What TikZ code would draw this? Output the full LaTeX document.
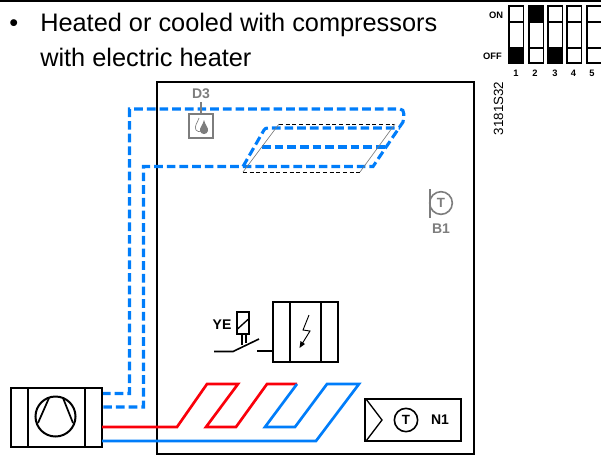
\documentclass[tikz,border=0pt]{standalone}
\usepackage{fontspec}
\setmainfont{Liberation Sans}
\definecolor{bl}{RGB}{0,125,250}
\definecolor{rd}{RGB}{250,0,10}
\definecolor{gr}{RGB}{125,125,125}
\tikzset{
 box/.style={draw=black,line width=1.5pt},
 thin box/.style={draw=black,line width=1.1pt},
 blued/.style={draw=bl,line width=2.3pt,dash pattern=on 6.5pt off 3pt},
 redl/.style={draw=rd,line width=2pt,line join=miter},
 bluel/.style={draw=bl,line width=2pt,line join=miter},
 lab/.style={inner sep=0pt,font=\fontsize{10.5}{12}\selectfont\bfseries},
 glab/.style={lab,text=gr},
 dip/.style={draw=black,line width=1.1pt},
 diplab/.style={inner sep=0pt,font=\fontsize{7}{8}\selectfont\bfseries},
 head/.style={anchor=base west,inner sep=0pt,font=\fontsize{19}{21}\selectfont},
}
\begin{document}
\begin{tikzpicture}[x=0.75pt,y=-0.75pt]
\useasboundingbox (0,0) rectangle (601,455);
\draw[line width=1.5pt] (0,0.6) -- (601,0.6);
% heading
\node[head] (bul) at (9,31.5) {•};
\node[head] (t1) at (40,31.5) {Heated or cooled with compressors};
\node[head] (t2) at (40,66.5) {with electric heater};
% main frame
\draw[box] (157,81.5) rectangle (473.5,454);
% dashed ducts
\draw[blued] (102,393.5) -- (129.5,393.5) -- (129.5,109) -- (400,109) to[out=0,in=80] (403,122) -- (373,166.5) -- (143.5,166.5) -- (143.5,407) -- (102,407);
\draw[blued] (243,166.5) -- (264,130) to[out=60,in=180] (268,128) -- (400,128);
\draw[blued] (262,147) -- (387,147);
% coil outline
\coordinate (c1) at (243,172); \coordinate (c2) at (279,124);
\coordinate (c3) at (395,124); \coordinate (c4) at (360,172);
\draw[black,line width=0.5pt,densely dashed] (c1) -- (c4) (c2) -- (c3);
\draw[gr,line width=0.5pt] (c1) -- (c2) (c3) -- (c4);
% D3
\node[glab] (d3) at (201,94) {D3};
\node[draw=gr,line width=1.5pt,minimum width=18pt,minimum height=18pt,inner sep=0pt] (d3box) at (201,126) {};
\draw[gr,line width=1.5pt] (201,102) -- (d3box.north);
\draw[gr,line width=0.5pt] (199,118) .. controls (197,124) and (194,126) .. (196,130) .. controls (197,132) and (200,132) .. (201,131);
\fill[gr] (204,120) .. controls (205,125) and (209,128) .. (208,131) .. controls (207,135) and (201,135) .. (200,131) .. controls (199,128) and (203,125) .. (204,120) -- cycle;
% B1
\draw[gr,line width=1.5pt] (430,189) -- (430,218);
\node[circle,draw=gr,line width=1.2pt,minimum size=17pt,inner sep=0pt,text=gr,font=\fontsize{10}{10}\selectfont\bfseries] (b1c) at (441,203) {T};
\node[glab] (b1) at (441,229) {B1};
% heater
\draw[box] (273,302) rectangle (338,362);
\draw[box] (290,302) -- (290,362) (321,302) -- (321,362);
\draw[black,line width=0.7pt] (309,315) -- (303,330) -- (310,331) -- (302,344);
\fill[black] (299.5,348) -- (300.5,341) -- (305,344) -- cycle;
% YE
\node[lab] (ye) at (222,325) {YE};
\draw[thin box] (237,312) rectangle (249,334);
\draw[black,line width=1pt] (237.5,329) -- (248.5,319);
\draw[black,line width=1pt] (242,334) -- (242,345) (246,334) -- (246,343);
\draw[black,line width=1.2pt] (214,351.5) -- (233,351.5) -- (259,339);
\draw[black,line width=1.5pt] (257,351) -- (273,351);
% compressor
\draw[box] (10.5,387.5) rectangle (102,447);
\draw[box] (28,387.5) -- (28,447) (85,387.5) -- (85,447);
\draw[black,line width=1.5pt] (55.5,416.5) circle (20);
\draw[black,line width=1.3pt] (38,423) -- (49,398) (63,398) -- (73,423);
% hot and cold pipes
\draw[redl] (102,427) -- (177,427) -- (207,384) -- (238,384) -- (206,427) -- (236,427) -- (267,384) -- (297,384);
\draw[bluel] (297,384) -- (265,427) -- (295,427) -- (327,384) -- (359,384) -- (316,441) -- (102,441);
% N1
\draw[box] (364.5,399) rectangle (460.5,441);
\draw[black,line width=1pt] (366,399) -- (382,420) -- (366,441);
\node[circle,draw=black,line width=1.2pt,minimum size=17.5pt,inner sep=0pt,font=\fontsize{10}{10}\selectfont\bfseries] (n1c) at (406,420) {T};
\node[lab] (n1) at (440,420) {N1};
% DIP switches
\foreach \x in {509,529,548,567,587}{
  \draw[dip] (\x,6) rectangle +(14.5,57);
  \draw[dip] (\x,22) -- +(14.5,0) (\x,48) -- +(14.5,0);
}
\fill[black] (509,48) rectangle +(14.5,15);
\fill[black] (529,6) rectangle +(14.5,16);
\fill[black] (548,48) rectangle +(14.5,15);
\node[diplab] (on) at (496,15.5) {ON};
\node[diplab] (off) at (492.5,56) {OFF};
\node[diplab] (n1l) at (516,73.5) {1};
\node[diplab] (n2l) at (535,73.5) {2};
\node[diplab] (n3l) at (555,73.5) {3};
\node[diplab] (n4l) at (573.5,73.5) {4};
\node[diplab] (n5l) at (592,73.5) {5};
\node[inner sep=0pt,rotate=90,font=\fontsize{10}{11}\selectfont] (code) at (498.5,108.5) {3181S32};
\end{tikzpicture}
\end{document}
